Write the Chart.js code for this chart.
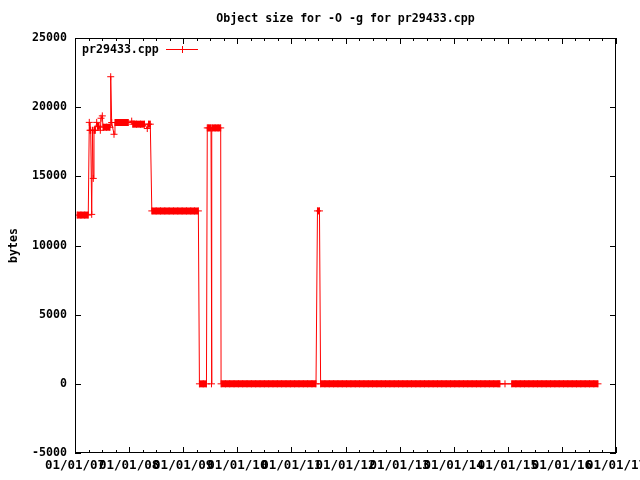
<!DOCTYPE html>
<html><head><meta charset="utf-8">
<script src="https://cdn.jsdelivr.net/npm/chart.js@4.4.1/dist/chart.umd.min.js"></script>
<style>html,body{margin:0;padding:0;background:#fff}canvas{display:block}</style>
</head><body>
<canvas id="c" width="640" height="480"></canvas>
<script>
const chartTitle = 'Object size for -O -g for pr29433.cpp';
const seriesLabel = 'pr29433.cpp';
const yAxisLabel = 'bytes';
const xTickYears = [2007, 2008, 2009, 2010, 2011, 2012, 2013, 2014, 2015, 2016, 2017];
const xTickLabels = ['01/01/07', '01/01/08', '01/01/09', '01/01/10', '01/01/11', '01/01/12',
                     '01/01/13', '01/01/14', '01/01/15', '01/01/16', '01/01/17'];
const yTicks = [-5000, 0, 5000, 10000, 15000, 20000, 25000];

// dates as decimal years
const dates = [
  2007.04, 2007.11, 2007.18, 2007.245, 2007.264, 2007.277, 2007.29, 2007.309, 2007.323, 2007.338,
  2007.351, 2007.375, 2007.401, 2007.416, 2007.444, 2007.468, 2007.481, 2007.505, 2007.518, 2007.582,
  2007.647, 2007.66, 2007.678, 2007.721, 2007.739, 2007.813, 2007.887, 2007.961, 2007.985, 2008.048,
  2008.067, 2008.137, 2008.211, 2008.285, 2008.336, 2008.359, 2008.392,
  2008.42, 2008.50, 2008.58, 2008.66, 2008.74, 2008.82, 2008.90, 2008.98, 2009.06, 2009.14, 2009.21, 2009.28,
  2009.30, 2009.37, 2009.43,
  2009.445, 2009.475, 2009.514, 2009.523, 2009.532, 2009.59, 2009.645, 2009.693,
  2009.70, 2009.78, 2009.86, 2009.94, 2010.02, 2010.10, 2010.18, 2010.26, 2010.34, 2010.42,
  2010.50, 2010.58, 2010.66, 2010.74, 2010.82, 2010.90, 2010.98, 2011.06, 2011.14, 2011.22,
  2011.30, 2011.38, 2011.455,
  2011.482, 2011.519,
  2011.54, 2011.62, 2011.70, 2011.78, 2011.86, 2011.94, 2012.02, 2012.10, 2012.18, 2012.26,
  2012.34, 2012.42, 2012.50, 2012.58, 2012.66, 2012.74, 2012.82, 2012.90, 2012.98, 2013.06,
  2013.14, 2013.22, 2013.30, 2013.38, 2013.46, 2013.54, 2013.62, 2013.70, 2013.78, 2013.86,
  2013.94, 2014.02, 2014.10, 2014.18, 2014.26, 2014.34, 2014.42, 2014.50, 2014.58, 2014.66,
  2014.74, 2014.82, 2014.855,
  2014.948,
  2015.072, 2015.15, 2015.23, 2015.31, 2015.39, 2015.47, 2015.55, 2015.63, 2015.71, 2015.79,
  2015.87, 2015.95, 2016.03, 2016.11, 2016.19, 2016.27, 2016.35, 2016.43, 2016.51, 2016.59,
  2016.667
];
// object size in bytes
const sizes = [
  12200, 12200, 12200, 12200, 18900, 18330, 18330, 12250, 18330, 14850,
  18330, 18330, 18900, 18620, 18620, 18330, 19200, 19370, 18550, 18550,
  18550, 22200, 18890, 18040, 18890, 18890, 18890, 18890, 18890, 18990,
  18770, 18770, 18770, 18770, 18455, 18770, 18770,
  12500, 12500, 12500, 12500, 12500, 12500, 12500, 12500, 12500, 12500, 12500, 12500,
  0, 0, 0,
  18500, 18500, 18500, 0, 18500, 18500, 18500, 18500,
  0, 0, 0, 0, 0, 0, 0, 0, 0, 0,
  0, 0, 0, 0, 0, 0, 0, 0, 0, 0,
  0, 0, 0,
  12500, 12500,
  0, 0, 0, 0, 0, 0, 0, 0, 0, 0,
  0, 0, 0, 0, 0, 0, 0, 0, 0, 0,
  0, 0, 0, 0, 0, 0, 0, 0, 0, 0,
  0, 0, 0, 0, 0, 0, 0, 0, 0, 0,
  0, 0, 0,
  0,
  0, 0, 0, 0, 0, 0, 0, 0, 0, 0,
  0, 0, 0, 0, 0, 0, 0, 0, 0, 0,
  0
];

const DENSE_GAP = 0.085; // consecutive points closer than this (years) merge into a band
const FONT = '"DejaVu Sans Mono", "Liberation Mono", monospace';
const RED = '#ff0000';
const fontSpec = {family: FONT, size: 11.6, weight: 'bold', lineHeight: '14px'};
const xFontSpec = {family: FONT, size: 12.5, weight: 'bold', lineHeight: '14px'};

const frame = {
  id: 'frame',
  afterLayout(chart) {
    const t = chart.titleBlock, a = chart.chartArea;
    if (t) { t.left = a.left; t.right = a.right; t.width = a.right - a.left; }
  },
  afterDraw(chart) {
    const {ctx, chartArea: a, scales: {x, y}} = chart;
    ctx.save();
    ctx.strokeStyle = '#000';
    ctx.lineWidth = 1;
    ctx.strokeRect(a.left + 0.5, a.top + 0.5, a.right - a.left - 1, a.bottom - a.top - 1);
    ctx.beginPath();
    for (let yr = xTickYears[0]; yr <= xTickYears[xTickYears.length - 1] + 1e-9; yr += 0.25) {
      const major = Math.abs(yr - Math.round(yr)) < 1e-6;
      const len = major ? 6 : 3;
      const px = Math.round(x.getPixelForValue(yr)) + 0.5;
      ctx.moveTo(px, a.bottom); ctx.lineTo(px, a.bottom - len);
      ctx.moveTo(px, a.top); ctx.lineTo(px, a.top + len);
    }
    for (const v of yTicks) {
      const py = Math.round(y.getPixelForValue(v)) + 0.5;
      ctx.moveTo(a.left, py); ctx.lineTo(a.left + 6, py);
      ctx.moveTo(a.right, py); ctx.lineTo(a.right - 6, py);
    }
    ctx.stroke();
    const ds = chart.data.datasets[0];
    const ky = a.top + 11.5;
    ctx.font = 'bold 11.6px ' + FONT;
    ctx.fillStyle = '#000';
    ctx.textAlign = 'left';
    ctx.textBaseline = 'middle';
    ctx.fillText(ds.label, a.left + 7, ky);
    ctx.strokeStyle = RED;
    ctx.beginPath();
    ctx.moveTo(a.left + 91, ky); ctx.lineTo(a.left + 123, ky);
    ctx.moveTo(a.left + 107.5, ky - 3.5); ctx.lineTo(a.left + 107.5, ky + 3.5);
    ctx.stroke();
    ctx.restore();
  }
};

Chart.defaults.color = '#000';
new Chart(document.getElementById('c'), {
  type: 'line',
  data: {
    datasets: [{
      label: seriesLabel,
      data: dates.map((d, i) => ({x: d, y: sizes[i]})),
      borderColor: RED,
      backgroundColor: RED,
      borderWidth: 1,
      pointStyle: 'cross',
      pointRadius: 3.5,
      pointBorderColor: RED,
      pointBorderWidth: 1,
      tension: 0,
      fill: false,
      segment: {
        borderWidth: c => (sizes[c.p0DataIndex] === sizes[c.p1DataIndex] &&
                           dates[c.p1DataIndex] - dates[c.p0DataIndex] <= DENSE_GAP) ? 7 : 1
      }
    }]
  },
  options: {
    responsive: false,
    animation: false,
    devicePixelRatio: 1,
    layout: {padding: {left: 0, right: 24, top: 0, bottom: 0}},
    plugins: {
      legend: {display: false},
      tooltip: {enabled: false},
      title: {display: true, text: chartTitle, color: '#000', font: fontSpec,
              padding: {top: 12, bottom: 12}}
    },
    scales: {
      x: {
        type: 'linear', min: 2007, max: 2017,
        afterBuildTicks: s => { s.ticks = xTickYears.map(v => ({value: v})); },
        ticks: {autoSkip: false, maxRotation: 0, minRotation: 0, padding: 6, color: '#000', font: xFontSpec,
                callback: v => xTickLabels[xTickYears.indexOf(v)]},
        grid: {display: false, drawTicks: false},
        border: {display: false},
        afterFit: s => { s.height = 27; s.paddingLeft = 0; s.paddingRight = 0; }
      },
      y: {
        type: 'linear', min: -5000, max: 25000,
        afterBuildTicks: s => { s.ticks = yTicks.map(v => ({value: v})); },
        ticks: {padding: 8, color: '#000', font: fontSpec, callback: v => String(v)},
        grid: {display: false, drawTicks: false},
        border: {display: false},
        title: {display: true, text: yAxisLabel, color: '#000', font: fontSpec, padding: {top: 7, bottom: 0}},
        afterFit: s => { s.width = 75; s.paddingTop = 0; s.paddingBottom = 0; }
      }
    }
  },
  plugins: [frame]
});
</script>
</body></html>
